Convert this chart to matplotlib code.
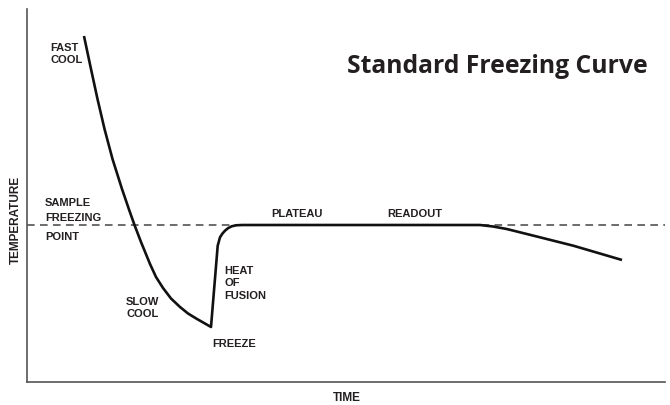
import matplotlib
matplotlib.use("Agg")
import matplotlib.pyplot as plt

# Curve data (time in arbitrary units 0-100, temperature in arbitrary units 0-100)
time = [8.93, 10.03, 11.05, 12.15, 13.40, 14.89, 16.07, 16.85, 17.87, 19.28,
        20.22, 21.32, 22.57, 23.98, 25.24, 26.65, 28.84, 29.89, 30.25, 30.64,
        31.03, 31.50, 32.08, 32.76, 33.70, 34.95, 71.00, 73.04, 75.19, 80.41,
        85.63, 93.26]
temperature = [92.76, 83.91, 75.87, 67.83, 59.79, 51.74, 45.84, 42.09, 37.53, 31.64,
               28.15, 25.20, 22.39, 20.11, 18.36, 16.89, 14.75, 36.54, 38.79, 39.81,
               40.56, 41.23, 41.74, 42.01, 42.09, 42.09, 42.09, 41.69, 41.02, 38.79,
               36.54, 32.71]
freezing_point = 42.09

labels = ["FAST\nCOOL", "SAMPLE", "FREEZING", "POINT", "PLATEAU", "READOUT",
          "HEAT\nOF\nFUSION", "SLOW\nCOOL", "FREEZE"]
label_pos = [(3.61, 91.2), (2.82, 49.6), (2.82, 45.6), (2.82, 40.5), (38.24, 46.6),
             (56.43, 46.6), (30.88, 31.4), (15.52, 23.1), (29.0, 11.8)]

txt = "#231f20"
fig = plt.figure(figsize=(6.7, 4.06), dpi=100)
ax = fig.add_axes([27/670, 23/406, 638/670, 373/406])
ax.set_xlim(0, 100)
ax.set_ylim(0, 100)

ax.axhline(freezing_point, color="#444444", lw=1.1, dashes=(5, 3.5), zorder=1)
ax.plot(time, temperature, color="#111111", lw=1.9, solid_joinstyle="round",
        solid_capstyle="butt", zorder=2)

for s, (x, y) in zip(labels, label_pos):
    ax.text(x, y, s, ha="left", va="top", multialignment="left", fontsize=8,
            fontweight="bold", family="Liberation Sans", color=txt, linespacing=1.3)

for side in ["top", "right"]:
    ax.spines[side].set_visible(False)
for side in ["left", "bottom"]:
    ax.spines[side].set_color("#555555")
    ax.spines[side].set_linewidth(1.2)
ax.set_xticks([])
ax.set_yticks([])

fig.text(347/670, 1 - 398/406, "TIME", ha="center", va="center", fontsize=8.5,
         fontweight="bold", family="Liberation Sans", color=txt)
fig.text(15.5/670, 1 - 220/406, "TEMPERATURE", ha="center", va="center",
         rotation=90, fontsize=8.5, fontweight="bold", family="Liberation Sans", color=txt)
title = fig.text(347/670, 1 - 73/406, "Standard Freezing Curve", ha="left",
                 va="baseline", fontsize=20, fontweight="bold", family="Open Sans",
                 color=txt)
# fit title width to ~301 px
renderer = fig.canvas.get_renderer()
w = title.get_window_extent(renderer).width
title.set_fontsize(20 * 301 / w)

fig.savefig("out.png", dpi=100)
